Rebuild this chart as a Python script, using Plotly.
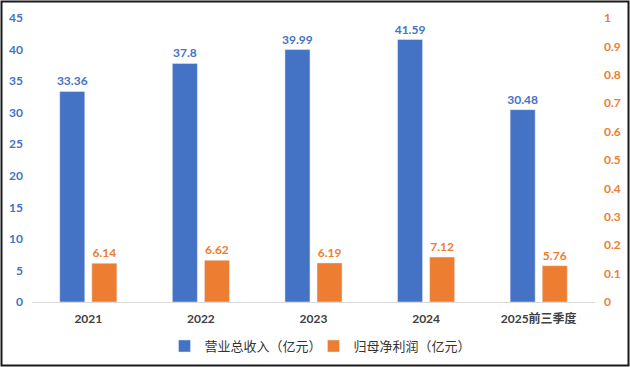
import plotly.graph_objects as go

categories = ["2021", "2022", "2023", "2024", "2025前三季度"]
revenue = [33.36, 37.8, 39.99, 41.59, 30.48]
net_profit = [6.14, 6.62, 6.19, 7.12, 5.76]
left_ticks = list(range(0, 50, 5))
right_ticks = [round(i * 0.1, 1) for i in range(11)]
right_tick_text = ["0", "0.1", "0.2", "0.3", "0.4", "0.5", "0.6", "0.7", "0.8", "0.9", "1"]

BLUE = "#4472C4"
ORANGE = "#ED7D31"
W, H = 630, 367
ml, mr, mt, mb = 32, 35, 18, 65

fig = go.Figure()
fig.add_trace(go.Bar(
    x=categories, y=revenue, name="营业总收入（亿元）",
    marker=dict(color=BLUE),
    text=[f"{v:g}" for v in revenue], textposition="outside",
    textfont=dict(color=BLUE, size=12, family="Lato", weight="bold"),
    constraintext="none", cliponaxis=False,
))
fig.add_trace(go.Bar(
    x=categories, y=net_profit, name="归母净利润（亿元）",
    marker=dict(color=ORANGE),
    text=[f"{v:g}" for v in net_profit], textposition="outside",
    textfont=dict(color=ORANGE, size=12, family="Lato", weight="bold"),
    constraintext="none", cliponaxis=False,
))
# invisible trace to show the secondary axis
fig.add_trace(go.Scatter(x=categories, y=[None] * len(categories), yaxis="y2",
                         showlegend=False, hoverinfo="skip", mode="markers"))

pw = W - ml - mr
ph = H - mt - mb
fig.add_shape(type="rect", xref="paper", yref="paper",
              x0=(1.5 - ml) / pw, x1=(W - 1.5 - ml) / pw,
              y0=-(H - 1.5 - mt - ph) / ph, y1=(H - 1.5 - mb) / ph,
              line=dict(color="#1a1a1a", width=2))

fig.update_layout(
    width=W, height=H,
    margin=dict(l=ml, r=mr, t=mt, b=mb, autoexpand=False),
    plot_bgcolor="white", paper_bgcolor="white",
    barmode="group", bargap=0.43, bargroupgap=0.22,
    font=dict(family="Lato", size=12),
    xaxis=dict(
        showgrid=False, showline=True, linecolor="#D9D9D9", linewidth=1,
        tickfont=dict(size=12, color="#404040", family="Lato, Noto Sans CJK SC", weight="bold"),
        ticks="", ticklabelstandoff=6, automargin=False,
    ),
    yaxis=dict(
        range=[0, 45], tickvals=left_ticks, showgrid=False, zeroline=False,
        tickfont=dict(size=12, color=BLUE, family="Lato", weight="bold"),
        ticks="", ticklabelstandoff=8, automargin=False,
    ),
    yaxis2=dict(
        range=[0, 1], tickvals=right_ticks, ticktext=right_tick_text,
        overlaying="y", side="right", showgrid=False, zeroline=False,
        tickfont=dict(size=12, color=ORANGE, family="Lato", weight="bold"),
        ticks="", ticklabelstandoff=8, automargin=False,
    ),
    legend=dict(
        orientation="h", x=0.5, xanchor="center", y=-0.155, yanchor="middle",
        font=dict(size=13, color="#333333", family="Noto Sans CJK SC"),
        tracegroupgap=0, entrywidth=104, entrywidthmode="pixels",
    ),
    showlegend=True,
)

fig.write_html(
    "out.html",
    config={"displayModeBar": False},
    post_script="document.body.style.margin='0';document.body.style.overflow='hidden';",
)
